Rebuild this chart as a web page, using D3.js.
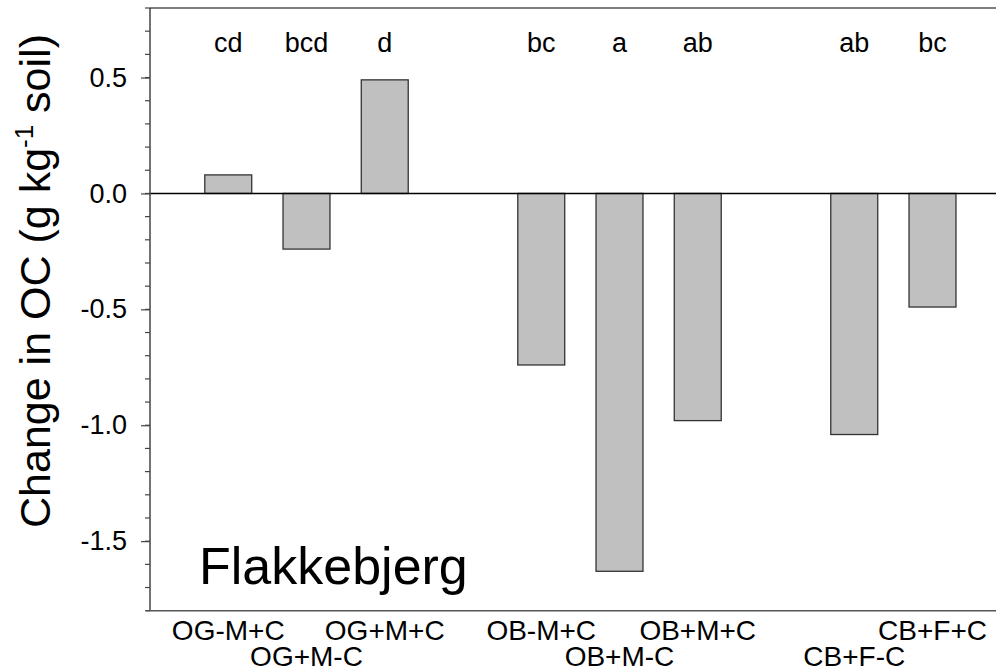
<!DOCTYPE html>
<html>
<head>
<meta charset="utf-8">
<script src="https://cdn.jsdelivr.net/npm/d3@7"></script>
<style>
  html, body { margin: 0; padding: 0; background: #fff; }
  svg { display: block; font-family: Arial, "Liberation Sans", Helvetica, sans-serif; }
</style>
</head>
<body>
<svg id="chart" width="996" height="672"></svg>
<script>
// Treatments and their slot on the x axis (gaps separate the three groups)
const treatments = ["OG-M+C", "OG+M-C", "OG+M+C", "OB-M+C", "OB+M-C", "OB+M+C", "CB+F-C", "CB+F+C"];
const slots = [1, 2, 3, 5, 6, 7, 9, 10];
// Change in organic carbon, g kg-1 soil
const changeOC = [0.08, -0.24, 0.49, -0.74, -1.63, -0.98, -1.04, -0.49];
// Significance letters above each bar
const letters = ["cd", "bcd", "d", "bc", "a", "ab", "ab", "bc"];
// Label row (0 = upper, 1 = lower) for staggered category labels
const labelRow = [0, 1, 0, 0, 1, 0, 1, 0];
const yTicks = [-1.5, -1.0, -0.5, 0.0, 0.5];
const siteName = "Flakkebjerg";

const svg = d3.select("#chart");
const plotLeft = 150, plotTop = 8, plotBottom = 610.7;

const x = d3.scaleLinear().domain([0, 11]).range([plotLeft, plotLeft + 11 * 78.25]);
const y = d3.scaleLinear().domain([-1.8, 0.8]).range([plotBottom, plotTop]);
const barW = x(0.6) - x(0);

// bars
svg.append("g").selectAll("rect")
  .data(changeOC)
  .join("rect")
  .attr("x", (d, i) => x(slots[i]) - barW / 2)
  .attr("width", barW)
  .attr("y", d => y(Math.max(0, d)))
  .attr("height", d => Math.abs(y(d) - y(0)))
  .attr("fill", "#c0c0c0")
  .attr("stroke", "#333")
  .attr("stroke-width", 1.3);

// zero reference line
svg.append("line")
  .attr("x1", plotLeft).attr("x2", 996)
  .attr("y1", y(0)).attr("y2", y(0))
  .attr("stroke", "#000").attr("stroke-width", 1.5);

// y axis with minor ticks
const yAxis = svg.append("g").attr("transform", `translate(${plotLeft},0)`);
const minor = d3.range(-18, 9).map(v => v / 10);
yAxis.selectAll("line.minor")
  .data(minor)
  .join("line")
  .attr("class", "minor")
  .attr("x1", -5).attr("x2", 0)
  .attr("y1", d => y(d)).attr("y2", d => y(d))
  .attr("stroke", "#444").attr("stroke-width", 1.2);
yAxis.call(d3.axisLeft(y).tickValues(yTicks).tickSize(9).tickPadding(14)
    .tickFormat(d3.format(".1f")))
  .call(g => g.select(".domain").remove())
  .call(g => g.selectAll(".tick line").attr("stroke", "#444").attr("stroke-width", 1.2))
  .call(g => g.selectAll(".tick text")
    .attr("font-size", 27).attr("fill", "#000")
    .attr("font-family", "Arial, 'Liberation Sans', sans-serif")
    .text(d => d3.format(".1f")(d).replace("−", "-")));
yAxis.append("line")
  .attr("x1", 0).attr("x2", 0).attr("y1", plotTop).attr("y2", plotBottom)
  .attr("stroke", "#444").attr("stroke-width", 1.5);

// bottom axis line and top line
svg.append("line")
  .attr("x1", plotLeft - 4).attr("x2", 996)
  .attr("y1", plotBottom).attr("y2", plotBottom)
  .attr("stroke", "#555").attr("stroke-width", 1.5);
svg.append("line")
  .attr("x1", plotLeft).attr("x2", 996)
  .attr("y1", plotTop).attr("y2", plotTop)
  .attr("stroke", "#000").attr("stroke-width", 1.2);

// significance letters
svg.append("g").selectAll("text")
  .data(letters)
  .join("text")
  .attr("x", (d, i) => x(slots[i]))
  .attr("y", 52)
  .attr("text-anchor", "middle")
  .attr("font-size", 27)
  .text(d => d);

// category labels, staggered on two rows
svg.append("g").selectAll("text")
  .data(treatments)
  .join("text")
  .attr("x", (d, i) => x(slots[i]))
  .attr("y", (d, i) => labelRow[i] ? 666 : 640)
  .attr("text-anchor", "middle")
  .attr("font-size", 28)
  .text(d => d);

// site name inside the plot
svg.append("text")
  .attr("x", 199).attr("y", 584)
  .attr("font-size", 52)
  .text(siteName);

// y axis title
const title = svg.append("text")
  .attr("transform", `translate(50, 281) rotate(-90)`)
  .attr("text-anchor", "middle")
  .attr("font-size", 43);
title.append("tspan").text("Change in OC (g kg");
title.append("tspan").attr("dy", -17).attr("font-size", 26).text("-1");
title.append("tspan").attr("dy", 17).text(" soil)");
</script>
</body>
</html>
